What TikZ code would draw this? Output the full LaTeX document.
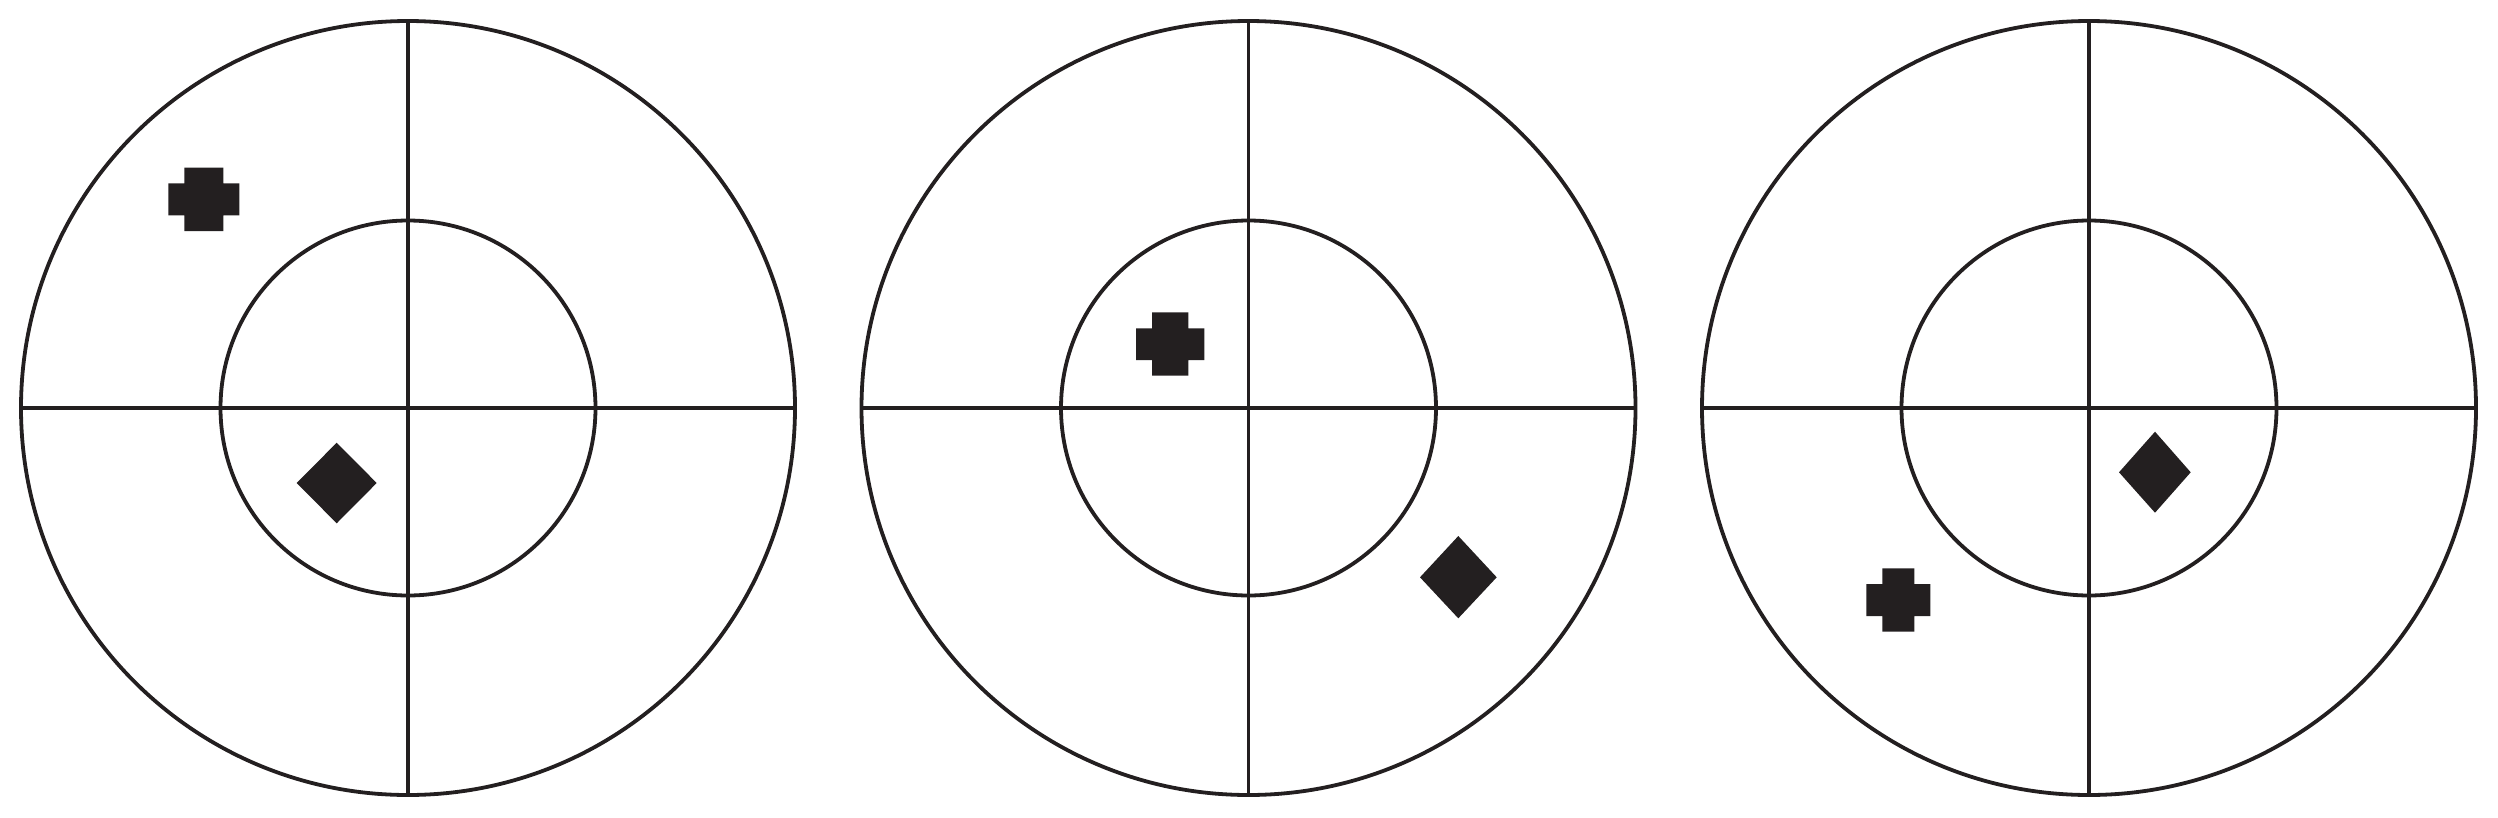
\documentclass[tikz,border=0pt]{standalone}
\definecolor{ink}{HTML}{231F20}
\begin{document}
\begin{tikzpicture}[x=1pt,y=-1pt,
  ring/.style={draw=ink,line width=3.8pt},
  axis/.style={draw=ink,line width=3.3pt},
  mark/.style={fill=ink}]
\useasboundingbox (0,0) rectangle (2498,817);
\foreach \cx/\nm in {408/a,1248.5/b,2089/c}{
  \coordinate (\nm) at (\cx,408);
  \draw[ring] (\nm) circle[radius=387];
  \draw[ring] (\nm) circle[radius=187.5];
  \draw[axis] ([xshift=-387pt]\nm) -- ([xshift=387pt]\nm);
  \draw[axis] ([yshift=387pt]\nm) -- ([yshift=-387pt]\nm);
}
% crosses
\fill[ink] (184.3,167.7) -- (223.3,167.7) -- (223.3,183.3) -- (239.3,183.3) -- (239.3,215.3) -- (223.3,215.3) -- (223.3,231) -- (184.3,231) -- (184.3,215.3) -- (168.3,215.3) -- (168.3,183.3) -- (184.3,183.3) -- cycle;
\fill[ink] (1152,312.3) -- (1188.3,312.3) -- (1188.3,328.3) -- (1204.3,328.3) -- (1204.3,360) -- (1188.3,360) -- (1188.3,375.7) -- (1152,375.7) -- (1152,360) -- (1136,360) -- (1136,328.3) -- (1152,328.3) -- cycle;
\fill[ink] (1882.3,568.3) -- (1914.3,568.3) -- (1914.3,584) -- (1930.3,584) -- (1930.3,616) -- (1914.3,616) -- (1914.3,631.7) -- (1882.3,631.7) -- (1882.3,616) -- (1866.3,616) -- (1866.3,584) -- (1882.3,584) -- cycle;
% diamonds
\fill[ink] (336.7,442.7) -- (376.7,483) -- (336.7,523.3) -- (296.7,483) -- cycle;
\fill[ink] (1458.3,536) -- (1496.7,577.3) -- (1458.3,618.3) -- (1420,577.3) -- cycle;
\fill[ink] (2155,431.7) -- (2190.7,472.3) -- (2155,512.7) -- (2119,472.3) -- cycle;
\end{tikzpicture}
\end{document}
